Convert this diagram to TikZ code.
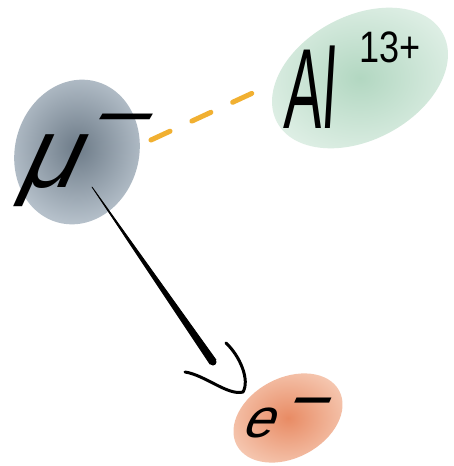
\documentclass[tikz,border=0pt]{standalone}
\usepackage{fontspec}
\setmainfont{Liberation Sans}
\newfontfamily\handslant[FakeSlant=0.45]{Liberation Sans}
\newfontfamily\handlight[FakeSlant=0.12]{Liberation Sans}
\usetikzlibrary{arrows.meta,shapes.geometric}
\definecolor{graycore}{HTML}{6D7B88}
\definecolor{grayedge}{HTML}{B5C0CA}
\definecolor{greencore}{HTML}{B2D7C1}
\definecolor{greenedge}{HTML}{DDEEE4}
\definecolor{orangecore}{HTML}{E88B64}
\definecolor{orangeedge}{HTML}{F5C6AF}
\definecolor{dashorange}{HTML}{F1B031}
\tikzset{
  blob/.style={ellipse, inner sep=0pt, draw=none},
  hand/.style={inner sep=0pt, text=black},
  bond/.style={draw=dashorange, line width=5pt, line cap=round, dash pattern=on 21pt off 24pt},
  ink/.style={draw=black, line width=3pt, line cap=round, line join=round}
}
\begin{document}
\begin{tikzpicture}[x=1pt,y=-1pt]
\useasboundingbox (0,0) rectangle (453,466);
\fill[white] (0,0) rectangle (453,466);
% blobs
\node[blob, minimum width=124pt, minimum height=146pt, rotate=-15,
      inner color=graycore, outer color=grayedge] (mu) at (77,152) {};
\node[blob, minimum width=188pt, minimum height=124pt, rotate=28,
      inner color=greencore, outer color=greenedge] (al) at (360,78) {};
\node[blob, minimum width=116pt, minimum height=80pt, rotate=28,
      inner color=orangecore, outer color=orangeedge] (el) at (288,418) {};
% labels
\node[hand, anchor=base west, font=\handslant\fontsize{100}{100}\selectfont] (mulab) at (15,187)
  {μ\hspace{8pt}\raisebox{44pt}{\fontsize{80}{80}\selectfont\scalebox{1.3}[1]{−}}};
\node[hand, anchor=base, font=\handlight\fontsize{114}{114}\selectfont, xscale=0.5, transform shape] (allab) at (309,128) {Al};
\node[hand, anchor=base, font=\fontsize{44}{44}\selectfont, xscale=0.82, transform shape] (alcharge) at (390,62) {13+};
\node[hand, anchor=base west, font=\handslant\fontsize{55}{55}\selectfont] (elab) at (240,437)
  {e\hspace{11pt}\raisebox{13pt}{\fontsize{72}{72}\selectfont −}};
% connectors
\coordinate (bondA) at (151,140);
\coordinate (bondB) at (257,91);
\draw[bond] (bondA) -- (bondB);
\coordinate (shaftA) at (92,187);
\coordinate (shaftB) at (213,362);
\coordinate (tip) at (243,392);
\fill[black, draw=black, line width=0.8pt, line join=round]
  (shaftA) -- ([xshift=3pt,yshift=2.1pt]shaftB) -- ([xshift=-3pt,yshift=-2.1pt]shaftB) -- cycle;
\fill[black] (shaftB) circle (3.5pt);
\draw[ink] (185,372) .. controls (205,375) and (228,396) .. (tip)
           .. controls (250,380) and (240,356) .. (226,343);
\end{tikzpicture}
\end{document}
